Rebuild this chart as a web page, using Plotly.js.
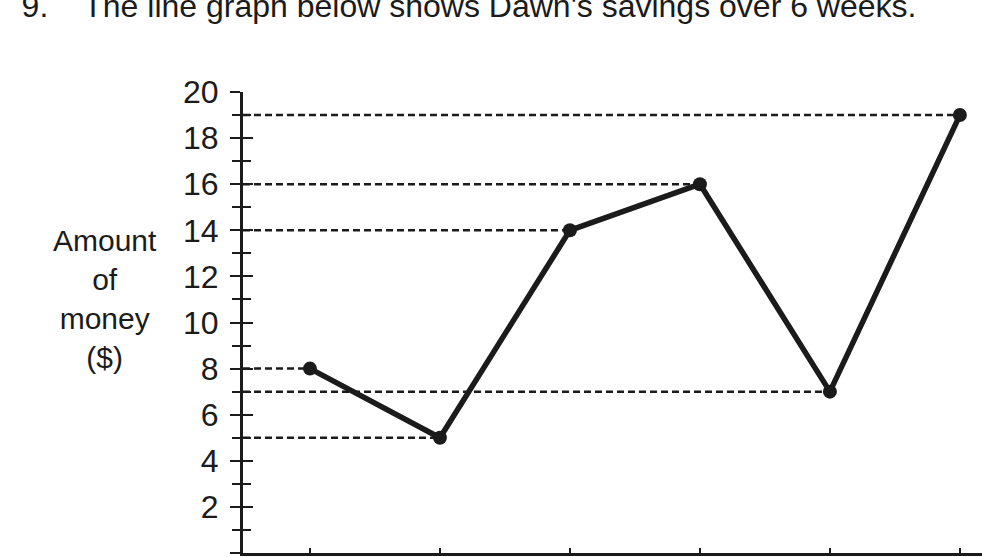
<!DOCTYPE html>
<html>
<head>
<meta charset="utf-8">
<script src="https://cdn.plot.ly/plotly-3.0.1.min.js"></script>
<style>
  html, body { margin: 0; padding: 0; background: #fff; }
  #gd { width: 982px; height: 557px; }
</style>
</head>
<body>
<div id="gd"></div>
<script>
// Dawn's savings, week by week
const weeks = [1, 2, 3, 4, 5, 6];
const savings = [8, 5, 14, 16, 7, 19];
const yTicks = [0, 2, 4, 6, 8, 10, 12, 14, 16, 18, 20];

const xStart = 0.485;   // where the y axis sits
const ink = '#1b1b1b';
const font = 'Liberation Sans, Arial, sans-serif';

// dashed guide lines from the y axis to each point
let gx = [], gy = [];
weeks.forEach(function (w, i) {
  gx.push(xStart, w, null);
  gy.push(savings[i], savings[i], null);
});

const guides = {
  x: gx, y: gy,
  mode: 'lines',
  type: 'scatter',
  line: {color: ink, width: 2.5, dash: '7px,4px'},
  hoverinfo: 'skip',
  showlegend: false
};

const main = {
  x: weeks, y: savings,
  yaxis: 'y2',
  mode: 'lines+markers',
  type: 'scatter',
  line: {color: ink, width: 5.5},
  marker: {color: ink, size: 14},
  cliponaxis: false,
  showlegend: false
};

const layout = {
  width: 982, height: 557,
  margin: {l: 243, r: 0, t: 92, b: 4},
  paper_bgcolor: '#fff', plot_bgcolor: '#fff',
  font: {family: font, color: ink},
  title: {
    text: "9.    The line graph below shows Dawn's savings over 6 weeks.",
    x: 0.022, xanchor: 'left', xref: 'container',
    y: 0.99, yanchor: 'middle', yref: 'container',
    font: {size: 32, family: font, color: ink}
  },
  xaxis: {
    range: [xStart, 6.17],
    showgrid: false, zeroline: false,
    showline: true, linecolor: ink, linewidth: 3,
    tickvals: weeks, ticks: 'inside', ticklen: 5, tickwidth: 1.5, tickcolor: ink,
    showticklabels: false
  },
  yaxis: {
    range: [0, 20],
    showgrid: false, zeroline: false,
    showline: true, linecolor: ink, linewidth: 3,
    tickvals: yTicks, ticks: 'outside', ticklen: 10, tickwidth: 2, tickcolor: ink,
    minor: {dtick: 1, ticks: 'outside', ticklen: 8, tickwidth: 2, tickcolor: ink, showgrid: false},
    ticklabelstandoff: 5,
    tickfont: {size: 32, family: font, color: ink}
  },
  yaxis2: {
    range: [0, 20],
    overlaying: 'y', side: 'left',
    showgrid: false, zeroline: false, showline: false,
    tickvals: yTicks, ticks: 'inside', ticklen: 10, tickwidth: 2, tickcolor: ink,
    minor: {dtick: 1, ticks: 'inside', ticklen: 8, tickwidth: 2, tickcolor: ink, showgrid: false},
    showticklabels: false
  },
  annotations: [{
    text: 'Amount<br>of<br>money<br>($)',
    xref: 'paper', yref: 'paper',
    x: -0.187, y: 0.55,
    xanchor: 'center', yanchor: 'middle',
    showarrow: false,
    font: {size: 30, family: font, color: ink}
  }]
};

Plotly.newPlot('gd', [guides, main], layout, {displayModeBar: false, staticPlot: true});
</script>
</body>
</html>
